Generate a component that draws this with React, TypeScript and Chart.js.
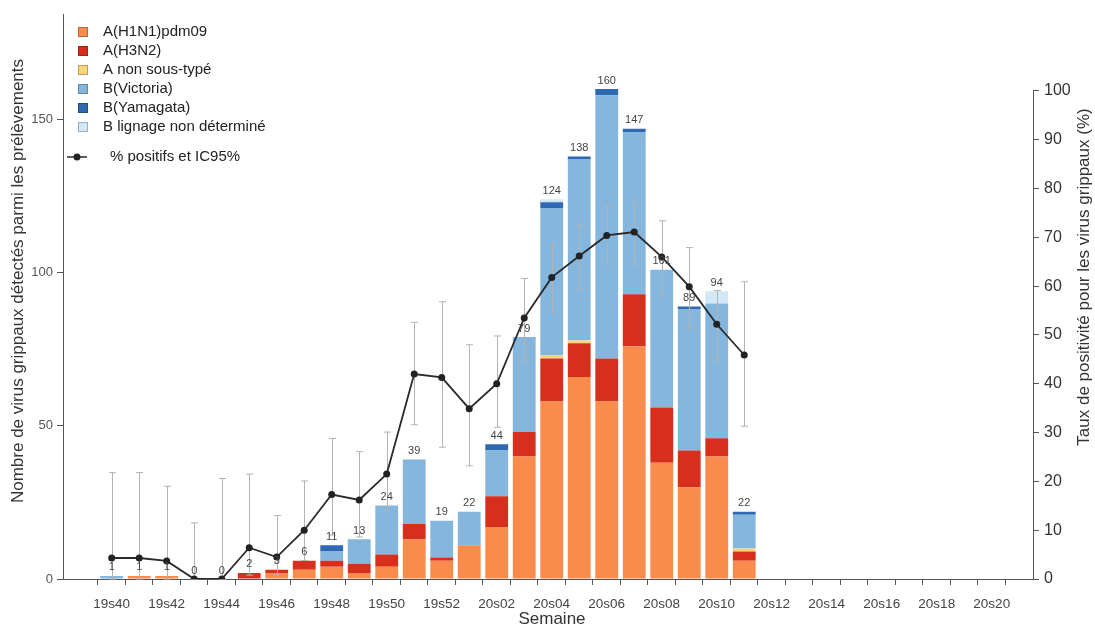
import React, { useEffect, useRef } from 'react';
import { Chart, registerables } from 'chart.js';

Chart.register(...registerables);

const FONT = "'Liberation Sans', Arial, Helvetica, sans-serif";

// Weeks (categories)
const weeks = [
  '19s40', '19s41', '19s42', '19s43', '19s44', '19s45', '19s46', '19s47', '19s48', '19s49', '19s50', '19s51', '19s52',
  '20s01', '20s02', '20s03', '20s04', '20s05', '20s06', '20s07', '20s08', '20s09', '20s10',
  '20s11', '20s12', '20s13', '20s14', '20s15', '20s16', '20s17', '20s18', '20s19', '20s20',
];

// Number of viruses per type (left axis)
const h1n1 = [0, 1, 1, 0, 0, 0, 2, 3, 4, 2, 4, 13, 6, 11, 17, 40, 58, 66, 58, 76, 38, 30, 40, 6, 0, 0, 0, 0, 0, 0, 0, 0, 0];
const h3n2 = [0, 0, 0, 0, 0, 2, 1, 3, 2, 3, 4, 5, 1, 0, 10, 8, 14, 11, 14, 17, 18, 12, 6, 3, 0, 0, 0, 0, 0, 0, 0, 0, 0];
const aNonSousType = [0, 0, 0, 0, 0, 0, 0, 0, 0, 0, 0, 0, 0, 0, 0, 0, 1, 1, 0, 0, 0, 0, 0, 1, 0, 0, 0, 0, 0, 0, 0, 0, 0];
const bVictoria = [1, 0, 0, 0, 0, 0, 0, 0, 3, 8, 16, 21, 12, 11, 15, 31, 48, 59, 86, 53, 45, 46, 44, 11, 0, 0, 0, 0, 0, 0, 0, 0, 0];
const bYamagata = [0, 0, 0, 0, 0, 0, 0, 0, 2, 0, 0, 0, 0, 0, 2, 0, 2, 1, 2, 1, 0, 1, 0, 1, 0, 0, 0, 0, 0, 0, 0, 0, 0];
const bNonDetermine = [0, 0, 0, 0, 0, 0, 0, 0, 0, 0, 0, 0, 0, 0, 0, 0, 1, 0, 0, 0, 0, 0, 4, 0, 0, 0, 0, 0, 0, 0, 0, 0, 0];

// % positive and 95% CI (right axis), weeks 19s40..20s11
const pctPositive = [4.3, 4.3, 3.7, 0, 0, 6.4, 4.5, 10.0, 17.3, 16.2, 21.5, 42.0, 41.3, 34.9, 40.0, 53.5, 61.8, 66.2, 70.4, 71.1, 66.0, 59.9, 52.2, 45.9];
const pctLow = [0, 0, 0, 0, 0, 0.8, 0.9, 3.8, 9.0, 8.6, 14.0, 31.6, 27.0, 23.2, 31.1, 44.7, 54.7, 59.4, 64.6, 64.5, 58.1, 51.3, 44.5, 31.3];
const pctHigh = [21.8, 21.8, 19.0, 11.5, 20.6, 21.5, 13.0, 20.1, 28.8, 26.1, 30.1, 52.6, 56.8, 48.0, 49.8, 61.6, 68.6, 72.7, 76.3, 77.0, 73.4, 67.9, 59.1, 60.9];

const leftTicks = [0, 50, 100, 150];
const rightTicks = [0, 10, 20, 30, 40, 50, 60, 70, 80, 90, 100];

const seriesNames = ['A(H1N1)pdm09', 'A(H3N2)', 'A non sous-typé', 'B(Victoria)', 'B(Yamagata)', 'B lignage non déterminé'];
const seriesColors = ['#F98B4C', '#D62F1E', '#F9D67C', '#85B6DD', '#2F69B1', '#D2E8F6'];
const seriesData = [h1n1, h3n2, aNonSousType, bVictoria, bYamagata, bNonDetermine];
const labeledWeeks = pctPositive.length; // totals displayed for weeks with data

const totals = weeks.map((_, i) => seriesData.reduce((s, arr) => s + arr[i], 0));

const toXY = (arr: number[]) => arr.map((v, i) => ({ x: i, y: v }));

const customPlugin = {
  id: 'customDraw',
  beforeDatasetDraw(chart: any, args: any) {
    if (args.meta.type !== 'line') return;
    const { ctx } = chart;
    const xS = chart.scales.x;
    const yS = chart.scales.y2;
    ctx.save();
    ctx.strokeStyle = '#b3b3b3';
    ctx.lineWidth = 1;
    for (let i = 0; i < pctPositive.length; i++) {
      const x = Math.round(xS.getPixelForValue(i)) + 0.5;
      const yl = yS.getPixelForValue(pctLow[i]);
      const yh = yS.getPixelForValue(pctHigh[i]);
      ctx.beginPath();
      ctx.moveTo(x, yl);
      ctx.lineTo(x, yh);
      ctx.moveTo(x - 3.5, yh);
      ctx.lineTo(x + 3.5, yh);
      ctx.moveTo(x - 3.5, yl);
      ctx.lineTo(x + 3.5, yl);
      ctx.stroke();
    }
    ctx.restore();
  },
  afterDatasetsDraw(chart: any) {
    const { ctx, chartArea } = chart;
    const xS = chart.scales.x;
    const yS = chart.scales.y;
    const y2 = chart.scales.y2;
    ctx.save();
    // totals above bars
    ctx.font = `11px ${FONT}`;
    ctx.fillStyle = '#444';
    ctx.textAlign = 'center';
    ctx.textBaseline = 'bottom';
    for (let i = 0; i < labeledWeeks; i++) {
      const x = xS.getPixelForValue(i);
      const y = yS.getPixelForValue(totals[i]);
      ctx.fillText(String(totals[i]), x, y - 3);
    }
    // right axis line 0..100
    ctx.strokeStyle = '#555';
    ctx.lineWidth = 1;
    ctx.beginPath();
    const rx = Math.round(chartArea.right) + 0.5;
    ctx.moveTo(rx, y2.getPixelForValue(0));
    ctx.lineTo(rx, y2.getPixelForValue(100));
    ctx.stroke();

    // legend
    ctx.textAlign = 'left';
    ctx.textBaseline = 'middle';
    ctx.font = `15px ${FONT}`;
    const rowY = [32, 51, 70, 89, 108, 127];
    seriesNames.forEach((name, k) => {
      const cy = rowY[k];
      ctx.fillStyle = seriesColors[k];
      ctx.fillRect(78, cy - 5, 10, 10);
      ctx.strokeStyle = 'rgba(0,0,0,0.25)';
      ctx.strokeRect(78.5, cy - 4.5, 9, 9);
      ctx.fillStyle = '#222';
      ctx.fillText(name, 103, cy);
    });
    const ly = 157;
    ctx.strokeStyle = '#2a2a2a';
    ctx.lineWidth = 1.5;
    ctx.beginPath();
    ctx.moveTo(67, ly);
    ctx.lineTo(87, ly);
    ctx.stroke();
    ctx.fillStyle = '#222';
    ctx.beginPath();
    ctx.arc(77, ly, 3.5, 0, Math.PI * 2);
    ctx.fill();
    ctx.fillText('% positifs et IC95%', 110, ly);

    // axis titles
    ctx.fillStyle = '#333';
    ctx.font = `17px ${FONT}`;
    ctx.textAlign = 'center';
    ctx.textBaseline = 'middle';
    ctx.fillText('Semaine', 552, 619);
    ctx.save();
    ctx.translate(18, 281);
    ctx.rotate(-Math.PI / 2);
    ctx.fillText('Nombre de virus grippaux détectés parmi les prélèvements', 0, 0);
    ctx.restore();
    ctx.save();
    ctx.translate(1084, 277);
    ctx.rotate(-Math.PI / 2);
    ctx.fillText('Taux de positivité pour les virus grippaux (%)', 0, 0);
    ctx.restore();
    ctx.restore();
  },
};

export default function App() {
  const ref = useRef<HTMLCanvasElement>(null);
  useEffect(() => {
    if (!ref.current) return;
    const barSets = seriesNames.map((name, k) => ({
      type: 'bar' as const,
      label: name,
      data: toXY(seriesData[k]),
      backgroundColor: seriesColors[k],
      borderWidth: 0,
      stack: 'virus',
      yAxisID: 'y',
      order: 2,
      categoryPercentage: 1,
      barPercentage: 0.83,
    }));
    const chart = new Chart(ref.current, {
      type: 'bar',
      data: {
        datasets: [
          ...barSets,
          {
            type: 'line' as const,
            label: '% positifs et IC95%',
            data: toXY(pctPositive),
            yAxisID: 'y2',
            borderColor: '#2a2a2a',
            borderWidth: 1.8,
            pointRadius: 3.5,
            pointBackgroundColor: '#222',
            pointBorderWidth: 0,
            tension: 0,
            order: 0,
          } as any,
        ],
      },
      options: {
        animation: false,
        responsive: true,
        maintainAspectRatio: false,
        layout: { padding: { top: 10, left: 0, right: 0, bottom: 0 } },
        plugins: { legend: { display: false }, tooltip: { enabled: false } },
        scales: {
          x: {
            type: 'linear',
            min: -1.771,
            max: 33.5,
            offset: false,
            afterBuildTicks: (s: any) => {
              s.ticks = weeks.map((_, i) => ({ value: i }));
            },
            afterFit: (s: any) => {
              s.height = 50;
            },
            ticks: {
              autoSkip: false,
              maxRotation: 0,
              minRotation: 0,
              padding: 11,
              color: '#444',
              font: { family: FONT, size: 13.5 },
              callback: (v: any) => (Number(v) % 2 === 0 ? weeks[Number(v)] : ''),
            },
            grid: { drawOnChartArea: false, drawTicks: true, tickLength: 6, color: '#555' },
            border: { display: true, color: '#555', width: 1 },
          },
          y: {
            type: 'linear',
            position: 'left',
            stacked: true,
            min: 0,
            max: 184.3,
            afterBuildTicks: (s: any) => {
              s.ticks = leftTicks.map((v) => ({ value: v }));
            },
            afterFit: (s: any) => {
              s.width = 63;
            },
            ticks: { padding: 4, color: '#555', font: { family: FONT, size: 13 } },
            grid: { drawOnChartArea: false, drawTicks: true, tickLength: 6, color: '#555' },
            border: { display: true, color: '#555', width: 1 },
          },
          y2: {
            type: 'linear',
            position: 'right',
            min: 0,
            max: 115.65,
            afterBuildTicks: (s: any) => {
              s.ticks = rightTicks.map((v) => ({ value: v }));
            },
            afterFit: (s: any) => {
              s.width = 62;
            },
            ticks: { padding: 5, color: '#333', font: { family: FONT, size: 16 } },
            grid: { drawOnChartArea: false, drawTicks: true, tickLength: 6, color: '#555' },
            border: { display: false },
          },
        },
      },
      plugins: [customPlugin],
    });
    return () => chart.destroy();
  }, []);
  return (
    <div style={{ position: 'fixed', left: 0, top: 0, width: 1095, height: 629, background: '#fff' }}>
      <canvas ref={ref} />
    </div>
  );
}
